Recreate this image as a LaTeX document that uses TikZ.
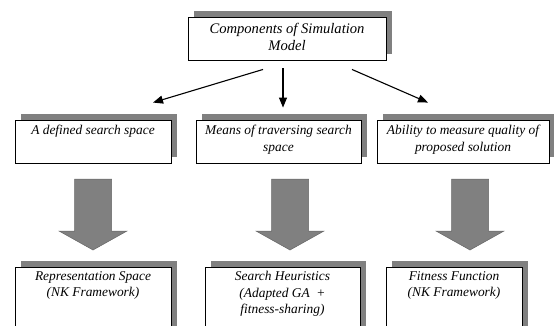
\documentclass[tikz,border=0pt]{standalone}
\usepackage{fontspec}
\setmainfont{Liberation Serif}
\usetikzlibrary{arrows.meta,calc,shadows}
\definecolor{shadowgray}{RGB}{128,128,128}
\begin{document}
\begin{tikzpicture}[x=1pt,y=-1pt,
  box/.style={draw=black, line width=0.9pt, fill=white, inner sep=0pt,
    general shadow={fill=shadowgray, shadow xshift=6pt, shadow yshift=6pt}},
  toptxt/.style={inner sep=0pt, align=center, font=\fontsize{14.6}{17}\selectfont\itshape},
  txt/.style={inner sep=0pt, align=center, font=\fontsize{13.4}{16.5}\selectfont\itshape},
  thinarrow/.style={line width=1.1pt, -{Triangle[length=10pt,width=8pt]}},
  blockarrow/.style={fill=shadowgray, draw=black!60, line width=0.5pt}]
\useasboundingbox (0,0) rectangle (554,325);
\clip (0,0) rectangle (554,325);
% top box
\node[box, minimum width=198, minimum height=43] (top) at (287,38.5) {};
\node[toptxt, anchor=north] (ttop) at ($(top.north)+(0,6)$) {Components of Simulation\\Model};
% row 2
\node[box, minimum width=156, minimum height=43] (b1) at (93,141.5) {};
\node[box, minimum width=165, minimum height=43] (b2) at (278.5,141.5) {};
\node[box, minimum width=172, minimum height=43] (b3) at (463,141.5) {};
\node[txt, anchor=north] (tb1) at ($(b1.north)+(0,5.5)$) {A defined search space};
\node[txt, anchor=north] (tb2) at ($(b2.north)+(0,5.5)$) {Means of traversing search\\space};
\node[txt, anchor=north] (tb3) at ($(b3.north)+(0,5.5)$) {Ability to measure quality of\\proposed solution};
% row 3
\node[box, minimum width=156, minimum height=78] (c1) at (93,306) {};
\node[box, minimum width=155, minimum height=78] (c2) at (282.5,306) {};
\node[box, minimum width=136, minimum height=78] (c3) at (454,306) {};
\node[txt, anchor=north] (tc1) at ($(c1.north)+(0,4.5)$) {Representation Space\\(NK Framework)};
\node[txt, anchor=north] (tc2) at ($(c2.north)+(0,4.5)$) {Search Heuristics\\(Adapted GA\ \ +\\fitness-sharing)};
\node[txt, anchor=north] (tc3) at ($(c3.north)+(0,4.5)$) {Fitness Function\\(NK Framework)};
% thin arrows
\draw[thinarrow] ($(top.south)+(-24,9)$) -- ($(b1.north)+(60,-17)$);
\draw[thinarrow] ($(top.south)+(-4,8)$) -- ($(b2.north)+(4.5,-12)$);
\draw[thinarrow] ($(top.south)+(65,9)$) -- ($(b3.north)+(-35,-17)$);
% block arrows
\coordinate (k1) at (93,250);
\coordinate (k2) at (290,250);
\coordinate (k3) at (470,250);
\foreach \k in {k1,k2,k3}{
  \path[blockarrow] (\k) -- ++(34,-19) -- ++(-15.5,0) -- ++(0,-52) -- ++(-37,0) -- ++(0,52) -- ++(-15.5,0) -- cycle;
}
\end{tikzpicture}
\end{document}
